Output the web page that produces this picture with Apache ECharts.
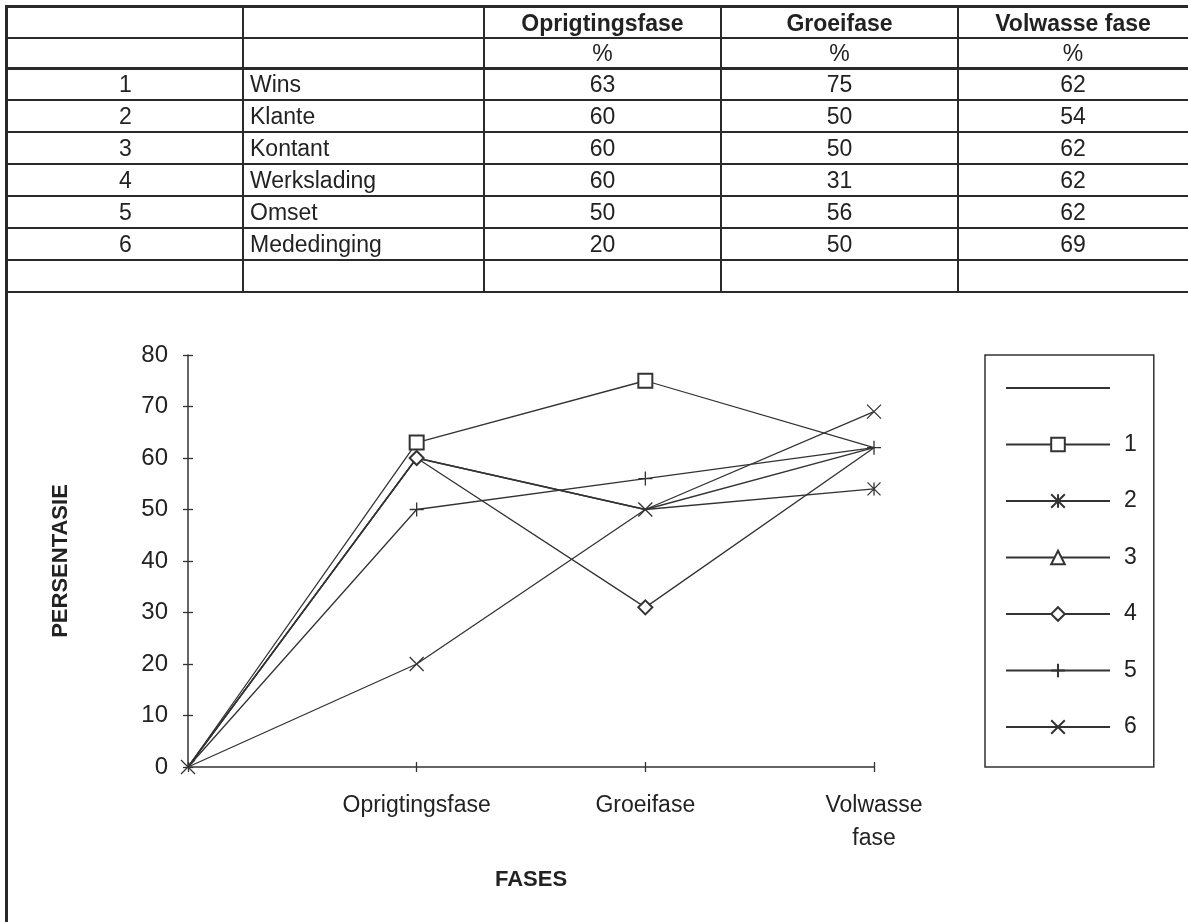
<!DOCTYPE html>
<html>
<head>
<meta charset="utf-8">
<script src="https://cdn.jsdelivr.net/npm/echarts@6/dist/echarts.min.js"></script>
<style>
  html, body { margin:0; padding:0; background:#fff; }
  #wrap { position:relative; width:1188px; height:922px; overflow:hidden; font-family:"Liberation Sans", Arial, sans-serif; color:#222; }
  #chart { position:absolute; left:0; top:0; width:1188px; height:922px; }
  #table { position:absolute; left:0; top:0; width:1188px; height:922px; pointer-events:none; }
  .hl { position:absolute; background:#2a2a2a; }
  .cell { position:absolute; font-size:23px; line-height:30px; white-space:nowrap; }
  .b { font-weight:bold; }
</style>
</head>
<body>
<div id="wrap">
  <div id="chart"></div>
  <div id="table"></div>
</div>
<script>
// ---- data ----
const phases = ['Oprigtingsfase', 'Groeifase', 'Volwasse fase'];
const unitRow = ['%', '%', '%'];
const ids = ['1', '2', '3', '4', '5', '6'];
const factors = ['Wins', 'Klante', 'Kontant', 'Werkslading', 'Omset', 'Mededinging'];
const oprigting = [63, 60, 60, 60, 50, 20];
const groei = [75, 50, 50, 31, 56, 50];
const volwasse = [62, 54, 62, 62, 62, 69];
const startValue = 0;
const xCategories = ['', 'Oprigtingsfase', 'Groeifase', 'Volwasse\nfase'];
const xName = 'FASES';
const yName = 'PERSENTASIE';

// ---- table (HTML) ----
const T = document.getElementById('table');
function line(x, y, w, h) {
  const d = document.createElement('div');
  d.className = 'hl';
  d.style.left = x + 'px'; d.style.top = y + 'px';
  d.style.width = w + 'px'; d.style.height = h + 'px';
  T.appendChild(d);
}
function cell(text, x, yTop, w, align, bold) {
  const d = document.createElement('div');
  d.className = 'cell' + (bold ? ' b' : '');
  d.textContent = text;
  d.style.left = x + 'px'; d.style.top = yTop + 'px';
  d.style.width = w + 'px'; d.style.textAlign = align;
  T.appendChild(d);
}
const rowY = [7, 38, 68, 100, 132, 164, 196, 228, 260, 292];
const colX = [8, 243, 484, 721, 958, 1188];
line(5, 5, 1200, 3);
for (let i = 1; i < rowY.length; i++) {
  const th = (i === 2) ? 3 : (i === rowY.length - 1 ? 2 : 1.5);
  line(5, rowY[i] - th / 2, 1200, th);
}
line(5, 5, 3, 917);
for (let i = 1; i < colX.length - 1; i++) line(colX[i] - 0.75, 7, 1.5, 285);
phases.forEach((p, j) => {
  cell(p, colX[j + 2], rowY[0] + 1, colX[j + 3] - colX[j + 2], 'center', true);
  cell(unitRow[j], colX[j + 2], rowY[1] + 0, colX[j + 3] - colX[j + 2], 'center', false);
});
const cols = [oprigting, groei, volwasse];
ids.forEach((id, i) => {
  const top = rowY[i + 2] + 1;
  cell(id, colX[0], top, colX[1] - colX[0], 'center', false);
  cell(factors[i], colX[1] + 7, top, colX[2] - colX[1] - 7, 'left', false);
  cols.forEach((c, j) => cell(String(c[i]), colX[j + 2], top, colX[j + 3] - colX[j + 2], 'center', false));
});

// ---- chart ----
const INK = '#333';
const symbols = [
  'emptyRect',
  'path://M0,0L10,10M10,0L0,10M5,0L5,10',
  'emptyTriangle',
  'emptyDiamond',
  'path://M5,0L5,10M0,5L10,5',
  'path://M0,0L10,10M10,0L0,10'
];
const sizes = [14, 13, 13, 14, 14, 14];

const allVals = ids.map((id, i) => [startValue, oprigting[i], groei[i], volwasse[i]]);

const series = [{
  name: ' ', type: 'line', data: [], symbol: 'none',
  lineStyle: { color: INK, width: 1.3 }, itemStyle: { color: INK }
}];
ids.forEach((id, i) => {
  const vals = allVals[i];
  series.push({
    name: id,
    type: 'line',
    symbol: symbols[i],
    symbolSize: sizes[i],
    z: 2 + i,
    // a marker is covered when a later series plots the same point
    data: vals.map((v, k) => {
      const covered = allVals.some((o, j) => j > i && o[k] === v);
      return covered ? { value: v, symbol: 'none' } : v;
    }),
    lineStyle: { color: INK, width: 1.3 },
    itemStyle: { color: INK, borderColor: INK, borderWidth: 1.3 }
  });
});

const legendData = series.map((s, i) => i === 0
  ? { name: s.name, itemStyle: { opacity: 0 } }
  : { name: s.name });

const chart = echarts.init(document.getElementById('chart'), null, { renderer: 'canvas' });
chart.setOption({
  animation: false,
  backgroundColor: '#fff',
  textStyle: { fontFamily: '"Liberation Sans", Arial, sans-serif', color: '#222' },
  grid: { left: 188, right: 314, top: 355, bottom: 155, containLabel: false },
  legend: {
    orient: 'vertical',
    left: 985, top: 355,
    padding: [21, 17, 28, 20],
    itemWidth: 104, itemHeight: 17, itemGap: 32.5,
    selectedMode: false,
    borderColor: INK, borderWidth: 1.5,
    textStyle: { fontSize: 23, lineHeight: 24, color: '#222', padding: [0, 0, 0, 9] },
    data: legendData
  },
  xAxis: [{
    type: 'category', data: xCategories, boundaryGap: false,
    name: xName, nameLocation: 'middle', nameGap: 102,
    nameTextStyle: { fontSize: 22, fontWeight: 'bold', color: '#222' },
    axisLine: { lineStyle: { color: INK, width: 1.5 } },
    axisTick: { show: true, length: 5, lineStyle: { color: INK, width: 1.3 } },
    axisLabel: { fontSize: 23, lineHeight: 33, margin: 22, color: '#222', interval: 0 },
    splitLine: { show: false }
  }, {
    type: 'category', data: xCategories, boundaryGap: false, position: 'bottom',
    axisLine: { show: false },
    axisTick: { show: true, inside: true, length: 5, lineStyle: { color: INK, width: 1.3 } },
    axisLabel: { show: false }, splitLine: { show: false }
  }],
  yAxis: [{
    type: 'value', min: 0, max: 80, interval: 10,
    name: yName, nameLocation: 'middle', nameGap: 116,
    nameTextStyle: { fontSize: 22, fontWeight: 'bold', color: '#222' },
    axisLine: { show: true, lineStyle: { color: INK, width: 1.5 } },
    axisTick: { show: true, length: 5, lineStyle: { color: INK, width: 1.3 } },
    axisLabel: { fontSize: 24, margin: 20, color: '#222' },
    splitLine: { show: false }
  }, {
    type: 'value', min: 0, max: 80, interval: 10, position: 'left',
    axisLine: { show: false },
    axisTick: { show: true, inside: true, length: 5, lineStyle: { color: INK, width: 1.3 } },
    axisLabel: { show: false }, splitLine: { show: false }
  }],
  series: series
});
</script>
</body>
</html>
